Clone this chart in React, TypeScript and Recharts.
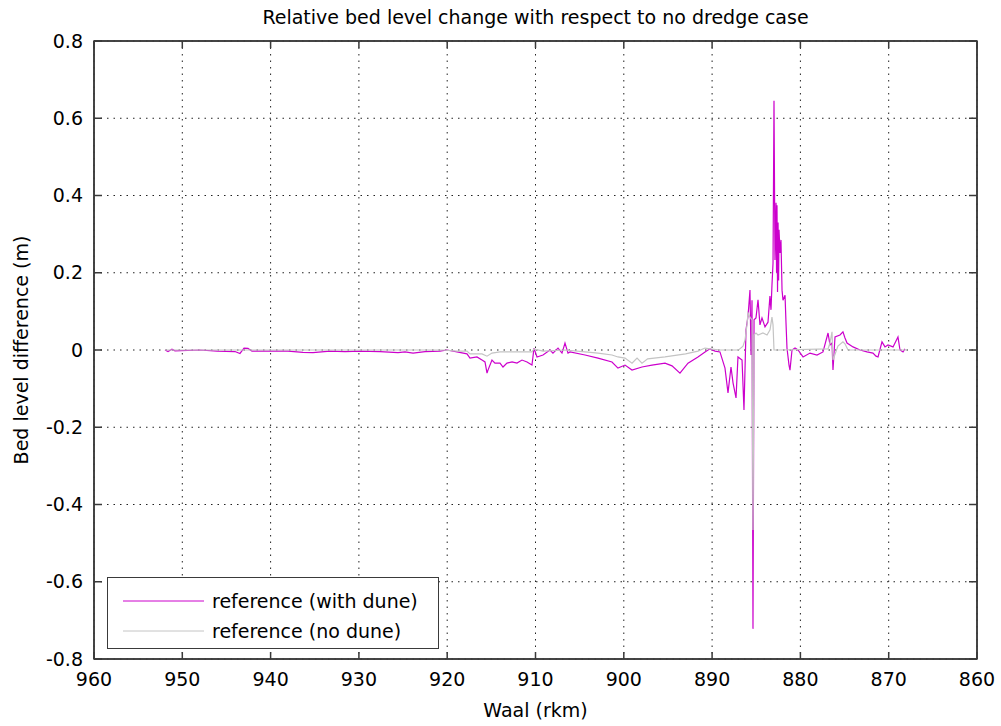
import { CartesianGrid, Legend, Line, LineChart, ReferenceArea, XAxis, YAxis } from "recharts";

// river km along the Waal, and bed level difference (m) relative to the no-dredge run
const rkmWithDune = [
  951.96, 951.62, 951.17, 950.83, 948.0, 946.07, 944.03, 943.47, 943.01, 942.56,
  942.11, 940.07, 938.03, 936.33, 935.2, 933.27, 931.57, 929.88, 927.61, 925.57,
  924.78, 923.87, 922.51, 920.82, 920.02, 918.89, 917.76, 917.42, 916.63, 916.06,
  915.72, 915.49, 915.38, 914.93, 914.59, 914.02, 913.68, 913.23, 912.66, 912.1,
  911.53, 910.96, 910.4, 910.17, 909.83, 909.15, 908.36, 908.02, 907.45, 907.0,
  906.66, 906.32, 906.09, 904.39, 902.92, 901.34, 900.66, 899.86, 899.07, 897.94,
  896.81, 895.33, 894.54, 893.64, 892.73, 891.6, 890.8, 890.24, 889.67, 889.11,
  888.54, 888.2, 887.86, 887.63, 887.29, 887.07, 886.61, 886.39, 886.16, 885.93,
  885.71, 885.59, 885.48, 885.37, 885.25, 885.03, 884.8, 884.58, 884.35, 884.01,
  883.67, 883.45, 883.33, 883.22, 883.1, 882.99, 882.88, 882.76, 882.7, 882.65,
  882.59, 882.53, 882.47, 882.42, 882.31, 882.2, 882.08, 881.97, 881.74, 881.63,
  881.52, 881.29, 881.18, 880.95, 880.61, 880.27, 879.7, 878.91, 878.12, 877.44,
  876.87, 876.65, 876.42, 876.31, 876.08, 875.52, 875.18, 874.95, 874.72, 874.04,
  873.25, 872.46, 871.78, 871.44, 871.21, 870.76, 870.42, 870.08, 869.51, 868.95,
  868.72, 868.38, 868.15,
];
const diffWithDune = [
  0, -0.004, 0.002, -0.002, 0, -0.003, -0.004, -0.009, 0.005, 0.004,
  -0.003, -0.003, -0.003, -0.006, -0.007, -0.003, -0.004, -0.003, -0.004, -0.007,
  -0.005, -0.008, -0.004, -0.003, 0, -0.005, -0.01, -0.021, -0.018, -0.026,
  -0.031, -0.06, -0.052, -0.026, -0.034, -0.034, -0.044, -0.034, -0.031, -0.034,
  -0.026, -0.031, -0.039, 0.005, -0.018, -0.013, 0, -0.008, 0.005, -0.008,
  0.018, -0.008, -0.005, -0.013, -0.021, -0.031, -0.047, -0.039, -0.052, -0.044,
  -0.039, -0.034, -0.041, -0.06, -0.034, -0.018, -0.005, 0.003, -0.003, -0.005,
  -0.047, -0.111, -0.044, -0.085, -0.124, -0.018, -0.026, -0.155, 0.052, 0.088,
  0.155, -0.013, 0.129, -0.722, 0.078, 0.083, 0.13, 0.065, 0.083, 0.06,
  0.072, 0.14, 0.104, 0.168, 0.225, 0.645, 0.233, 0.381, 0.2, 0.375,
  0.15, 0.33, 0.18, 0.311, 0.251, 0.285, 0.155, 0.129, 0.142, 0.07,
  0.005, -0.039, -0.052, 0, 0.005, 0, -0.018, -0.008, -0.013, -0.005,
  0.044, 0.013, 0.018, -0.052, 0.034, 0.039, 0.047, 0.031, 0.018, 0.008,
  0, -0.005, -0.008, -0.016, -0.018, 0.021, 0.008, 0.013, 0.008, 0.034,
  0, -0.005, 0.003,
];

const rkmNoDune = [
  951.96, 940.0, 930.0, 920.5, 918.89, 917.76, 917.42, 916.06, 915.49, 914.93,
  914.02, 912.1, 910.4, 910.17, 909.15, 906.66, 904.39, 902.92, 901.34, 900.66,
  899.86, 899.07, 898.5, 897.94, 897.3, 895.33, 893.0, 891.6, 890.8, 890.24,
  889.11, 887.0, 886.5, 886.27, 886.05, 885.93, 885.71, 885.48, 885.37, 885.25,
  885.03, 884.8, 884.24, 883.78, 883.44, 883.22, 883.1, 882.99, 882.31, 876.87,
  876.65, 876.42, 876.31, 875.75, 875.18, 874.95, 874.61, 868.0,
];
const diffNoDune = [
  0, 0, 0, 0, -0.003, -0.003, -0.01, -0.01, -0.016, -0.008,
  -0.005, -0.005, -0.005, 0.003, -0.003, 0, -0.005, -0.008, -0.013, -0.018,
  -0.021, -0.034, -0.021, -0.034, -0.023, -0.018, -0.01, -0.003, 0.005, 0.003,
  0, 0, 0.01, 0.026, 0.065, 0.096, 0.085, 0.078, -0.466, 0.039,
  0.044, 0.039, 0.044, 0.039, 0.052, 0.085, 0.065, 0, 0, 0.003,
  0.018, 0.047, -0.026, 0.01, 0.021, 0.016, 0, 0,
];

const xTicks = [860, 870, 880, 890, 900, 910, 920, 930, 940, 950, 960];
const yTicks = [-0.8, -0.6, -0.4, -0.2, 0, 0.2, 0.4, 0.6, 0.8];

const seriesNames = ["reference (with dune)", "reference (no dune)"];
const seriesColors = ["#cc00cc", "#c4c4c4"];

const withDune = rkmWithDune.map((rkm, i) => ({ rkm, diff: diffWithDune[i] }));
const noDune = rkmNoDune.map((rkm, i) => ({ rkm, diff: diffNoDune[i] }));

const FONT = "'DejaVu Sans', sans-serif";
const AXIS = "#3a3a3a";
const tickText = { fill: "#000", fontSize: 19, fontFamily: FONT };

const fmtY = (v: number) => (v === 0 ? "0" : v.toFixed(1));

function LegendBox() {
  return (
    <div
      style={{
        width: 330,
        height: 70,
        border: `1px solid ${AXIS}`,
        background: "#fff",
        fontFamily: FONT,
        fontSize: 19,
        color: "#000",
        position: "relative",
      }}
    >
      {seriesNames.map((name, i) => (
        <div
          key={name}
          style={{
            position: "absolute",
            left: 0,
            top: 8 + i * 30,
            height: 30,
            display: "flex",
            alignItems: "center",
          }}
        >
          <svg width={104} height={30}>
            <line x1={15} x2={96} y1={15} y2={15} stroke={seriesColors[i]} strokeWidth={1} />
          </svg>
          <span>{name}</span>
        </div>
      ))}
    </div>
  );
}

export default function App() {
  return (
    <div style={{ position: "absolute", left: 0, top: 0, background: "#fff" }}>
      <LineChart
        width={1001}
        height={726}
        margin={{ top: 40, right: 23, bottom: 0, left: 0 }}
        style={{ fontFamily: FONT }}
      >
        <CartesianGrid
          stroke="#222"
          strokeDasharray="1.5 5"
          horizontalValues={yTicks}
          verticalValues={xTicks}
        />
        <XAxis
          dataKey="rkm"
          type="number"
          domain={[860, 960]}
          ticks={xTicks}
          reversed
          allowDataOverflow
          height={67}
          stroke={AXIS}
          strokeWidth={1.5}
          tickSize={-7}
          tickMargin={21}
          tick={tickText}
          label={{
            value: "Waal (rkm)",
            position: "insideBottom",
            offset: 9,
            fill: "#000",
            fontSize: 19,
            fontFamily: FONT,
          }}
        />
        <XAxis
          xAxisId="top"
          dataKey="rkm"
          orientation="top"
          type="number"
          domain={[860, 960]}
          ticks={xTicks}
          reversed
          allowDataOverflow
          height={1}
          stroke={AXIS}
          strokeWidth={1.5}
          tickSize={-7}
          tickFormatter={() => ""}
          label={{
            value: "Relative bed level change with respect to no dredge case",
            position: "top",
            offset: 16,
            fill: "#000",
            fontSize: 19,
            fontFamily: FONT,
          }}
        />
        <YAxis
          type="number"
          domain={[-0.8, 0.8]}
          ticks={yTicks}
          allowDataOverflow
          width={94}
          stroke={AXIS}
          strokeWidth={1.5}
          tickSize={-8}
          tickMargin={19}
          tick={tickText}
          tickFormatter={fmtY}
          label={{
            value: "Bed level difference (m)",
            angle: -90,
            position: "insideLeft",
            offset: 21,
            fill: "#000",
            fontSize: 19,
            fontFamily: FONT,
            style: { textAnchor: "middle" },
          }}
        />
        <YAxis
          yAxisId="right"
          orientation="right"
          type="number"
          domain={[-0.8, 0.8]}
          ticks={yTicks}
          allowDataOverflow
          width={1}
          stroke={AXIS}
          strokeWidth={1.5}
          tickSize={-8}
          tickFormatter={() => ""}
        />
        {/* solid frame around the plot area */}
        <ReferenceArea
          x1={960}
          x2={860}
          y1={-0.8}
          y2={0.8}
          fill="none"
          stroke={AXIS}
          strokeWidth={1.5}
          ifOverflow="visible"
        />
        <Line
          data={withDune}
          dataKey="diff"
          name={seriesNames[0]}
          type="linear"
          stroke={seriesColors[0]}
          strokeWidth={1.2}
          dot={false}
          isAnimationActive={false}
        />
        <Line
          data={noDune}
          dataKey="diff"
          name={seriesNames[1]}
          type="linear"
          stroke={seriesColors[1]}
          strokeWidth={1.2}
          dot={false}
          isAnimationActive={false}
        />
        <Legend
          layout="horizontal"
          verticalAlign="middle"
          align="center"
          content={() => <LegendBox />}
          wrapperStyle={{ left: 107, top: 577, width: 332, height: 72 }}
        />
      </LineChart>
    </div>
  );
}
